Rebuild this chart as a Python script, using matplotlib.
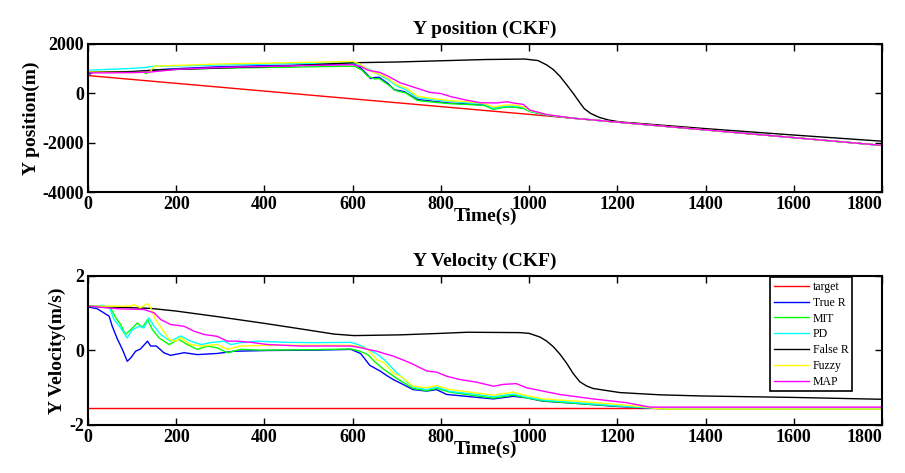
import matplotlib
matplotlib.use("Agg")
import matplotlib.pyplot as plt

plt.rcParams['font.family'] = ['Liberation Serif', 'DejaVu Serif']
plt.rcParams['axes.unicode_minus'] = False

# ---------------- data: Y position (m) ----------------
t_pos_target = [0, 1800]
pos_target = [720, -2110]

t_pos_true = [0, 5, 10, 30, 60, 100, 130, 150, 200, 300, 400, 500, 590, 605, 620, 634, 641, 650, 660, 680,
              694, 717, 747, 785, 822, 860, 898, 921, 943, 964, 987, 1002, 1040, 1100, 1200, 1300, 1400,
              1500, 1600, 1700, 1800]
pos_true = [860, 780, 850, 860, 870, 880, 900, 950, 1000, 1080, 1120, 1150, 1190, 1180, 1000, 740, 600, 640,
            650, 400, 150, 70, -250, -330, -400, -430, -470, -600, -540, -540, -600, -730, -880, -1009, -1166,
            -1324, -1481, -1638, -1795, -1952, -2110]

t_pos_mit = [0, 30, 60, 100, 125, 132, 145, 200, 300, 450, 590, 605, 620, 634, 650, 660, 680, 700, 720, 747,
             785, 822, 860, 898, 919, 943, 964, 987, 1002, 1040, 1100, 1200, 1300, 1400, 1500, 1600, 1700, 1800]
pos_mit = [850, 860, 870, 880, 870, 800, 940, 970, 1020, 1060, 1100, 1090, 950, 700, 580, 600, 350, 100, 20,
           -290, -360, -420, -450, -490, -650, -570, -560, -610, -740, -880, -1009, -1166, -1324, -1481, -1638,
           -1795, -1952, -2110]

t_pos_pd = [0, 30, 60, 100, 130, 150, 200, 300, 450, 590, 610, 634, 660, 680, 700, 720, 747, 785, 822, 860,
            898, 919, 943, 964, 987, 1002, 1040, 1100, 1200, 1300, 1400, 1500, 1600, 1700, 1800]
pos_pd = [940, 960, 980, 1010, 1050, 1100, 1110, 1150, 1200, 1240, 1200, 1000, 750, 560, 300, 150, -180, -260,
          -330, -380, -430, -600, -520, -510, -560, -720, -870, -1009, -1166, -1324, -1481, -1638, -1795, -1952,
          -2110]

t_pos_false = [0, 100, 150, 200, 300, 450, 600, 700, 800, 900, 990, 1020, 1040, 1055, 1070, 1085, 1100, 1115,
               1125, 1140, 1160, 1180, 1206, 1250, 1300, 1400, 1500, 1600, 1700, 1800]
pos_false = [870, 880, 940, 970, 1030, 1110, 1240, 1270, 1320, 1370, 1390, 1330, 1150, 960, 690, 350, 0, -380,
             -620, -820, -980, -1080, -1160, -1220, -1290, -1430, -1560, -1690, -1815, -1940]

t_pos_fuzzy = [0, 50, 100, 140, 150, 200, 300, 450, 600, 615, 640, 660, 680, 700, 720, 747, 785, 822, 860, 898,
               919, 943, 964, 987, 1002, 1040, 1100, 1200, 1300, 1400, 1500, 1600, 1700, 1800]
pos_fuzzy = [870, 850, 840, 860, 1100, 1130, 1190, 1240, 1290, 1200, 900, 780, 620, 350, 230, -120, -220, -300,
             -340, -410, -560, -480, -470, -540, -700, -860, -1009, -1166, -1324, -1481, -1638, -1795, -1952,
             -2110]

t_pos_map = [0, 50, 100, 140, 200, 300, 450, 600, 620, 634, 662, 680, 707, 730, 747, 775, 800, 822, 851, 889,
             926, 950, 964, 987, 1002, 1040, 1100, 1200, 1300, 1400, 1500, 1600, 1700, 1800]
pos_map = [830, 830, 840, 860, 970, 1050, 1110, 1160, 1080, 940, 845, 700, 430, 300, 200, 40, -10, -130, -250,
           -380, -390, -340, -390, -450, -680, -860, -1009, -1166, -1324, -1481, -1638, -1795, -1952, -2110]

# ---------------- data: Y velocity (m/s) ----------------
t_vel_target = [0, 1800]
vel_target = [-1.55, -1.55]

t_vel_true = [0, 21, 36, 48, 55, 67, 78, 89, 97, 108, 119, 135, 142, 155, 172, 187, 218, 248, 293, 331, 407,
              520, 596, 618, 639, 662, 677, 692, 714, 737, 768, 790, 813, 866, 919, 964, 994, 1031, 1107, 1183,
              1258, 1300, 1400, 1600, 1800]
vel_true = [1.17, 1.12, 1.01, 0.92, 0.65, 0.30, 0.03, -0.29, -0.20, -0.02, 0.04, 0.25, 0.12, 0.12, -0.06, -0.13,
            -0.06, -0.11, -0.08, -0.02, 0.0, 0.01, 0.03, -0.08, -0.40, -0.55, -0.67, -0.78, -0.91, -1.05, -1.09,
            -1.05, -1.18, -1.24, -1.30, -1.23, -1.27, -1.36, -1.42, -1.49, -1.54, -1.56, -1.56, -1.56, -1.56]

t_vel_mit = [0, 51, 63, 74, 85, 97, 112, 123, 135, 146, 161, 184, 206, 225, 248, 271, 293, 316, 346, 392, 500,
             596, 617, 634, 650, 671, 700, 737, 768, 790, 821, 881, 919, 964, 994, 1031, 1107, 1183, 1258, 1300,
             1800]
vel_mit = [1.19, 1.15, 0.88, 0.70, 0.43, 0.56, 0.74, 0.61, 0.83, 0.56, 0.34, 0.16, 0.30, 0.16, 0.03, 0.12, 0.07,
           -0.06, 0.03, 0.01, 0.02, 0.04, -0.02, -0.11, -0.30, -0.51, -0.75, -1.02, -1.08, -1.02, -1.12, -1.22,
           -1.28, -1.20, -1.27, -1.35, -1.42, -1.48, -1.53, -1.56, -1.56]

t_vel_pd = [0, 36, 48, 59, 74, 89, 101, 116, 127, 138, 150, 165, 187, 210, 233, 256, 278, 308, 324, 346, 384,
            445, 520, 596, 617, 640, 656, 671, 700, 737, 768, 790, 821, 881, 919, 964, 994, 1031, 1107, 1183,
            1258, 1300, 1800]
vel_pd = [1.19, 1.21, 1.17, 0.83, 0.61, 0.34, 0.56, 0.65, 0.61, 0.88, 0.65, 0.43, 0.25, 0.39, 0.25, 0.16, 0.21,
          0.25, 0.16, 0.21, 0.25, 0.22, 0.21, 0.22, 0.14, 0.0, -0.10, -0.24, -0.60, -0.98, -1.05, -0.98, -1.10,
          -1.18, -1.24, -1.17, -1.25, -1.33, -1.40, -1.47, -1.53, -1.55, -1.56]

t_vel_false = [0, 142, 199, 293, 399, 482, 558, 603, 709, 800, 860, 979, 1000, 1025, 1040, 1055, 1070, 1085,
               1100, 1115, 1130, 1145, 1206, 1236, 1297, 1387, 1600, 1800]
vel_false = [1.19, 1.13, 1.06, 0.91, 0.73, 0.58, 0.44, 0.40, 0.42, 0.46, 0.49, 0.48, 0.46, 0.36, 0.25, 0.10,
             -0.10, -0.34, -0.62, -0.84, -0.95, -1.02, -1.13, -1.15, -1.19, -1.22, -1.26, -1.31]

t_vel_fuzzy = [0, 97, 104, 119, 135, 142, 153, 169, 184, 199, 210, 233, 256, 293, 316, 346, 407, 500, 596, 617,
               634, 655, 671, 692, 714, 737, 768, 790, 821, 881, 919, 964, 994, 1031, 1107, 1183, 1258, 1300,
               1800]
vel_fuzzy = [1.19, 1.19, 1.23, 1.15, 1.26, 1.15, 0.83, 0.56, 0.30, 0.25, 0.34, 0.16, 0.12, 0.16, 0.03, 0.12,
             0.14, 0.14, 0.14, 0.10, 0.03, -0.25, -0.33, -0.60, -0.73, -0.96, -1.00, -0.94, -1.05, -1.14, -1.20,
             -1.12, -1.21, -1.30, -1.36, -1.43, -1.51, -1.57, -1.57]

t_vel_map = [0, 67, 127, 150, 165, 187, 218, 240, 263, 293, 316, 339, 369, 407, 482, 596, 617, 634, 655, 671,
             692, 730, 768, 790, 813, 843, 881, 919, 941, 971, 994, 1031, 1069, 1145, 1220, 1274, 1800]
vel_map = [1.19, 1.12, 1.10, 1.01, 0.83, 0.70, 0.65, 0.52, 0.43, 0.38, 0.25, 0.25, 0.22, 0.16, 0.12, 0.12, 0.08,
           0.03, -0.02, -0.08, -0.15, -0.33, -0.55, -0.58, -0.69, -0.78, -0.85, -0.96, -0.91, -0.89, -1.00,
           -1.09, -1.18, -1.30, -1.40, -1.52, -1.52]

labels = ['target', 'True R', 'MIT', 'PD', 'False R', 'Fuzzy', 'MAP']
colors = ['#ff0000', '#0000ff', '#00ff00', '#00ffff', '#000000', '#ffff00', '#ff00ff']

x_ticks = [0, 200, 400, 600, 800, 1000, 1200, 1400, 1600, 1800]
pos_ticks = [-4000, -2000, 0, 2000]
vel_ticks = [-2, 0, 2]

pos_series = [(t_pos_target, pos_target), (t_pos_true, pos_true), (t_pos_mit, pos_mit), (t_pos_pd, pos_pd),
              (t_pos_false, pos_false), (t_pos_fuzzy, pos_fuzzy), (t_pos_map, pos_map)]
vel_series = [(t_vel_target, vel_target), (t_vel_true, vel_true), (t_vel_mit, vel_mit), (t_vel_pd, vel_pd),
              (t_vel_false, vel_false), (t_vel_fuzzy, vel_fuzzy), (t_vel_map, vel_map)]

fig = plt.figure(figsize=(9.05, 4.73), dpi=100)
ax1 = fig.add_axes([0.0972, 0.594, 0.8774, 0.313])
ax2 = fig.add_axes([0.0972, 0.1015, 0.8774, 0.315])

for ax, series, yticks, ylim, title, ylabel in [
        (ax1, pos_series, pos_ticks, (-4000, 2000), 'Y position (CKF)', 'Y position(m)'),
        (ax2, vel_series, vel_ticks, (-2, 2), 'Y Velocity (CKF)', 'Y Velocity(m/s)')]:
    for (tt, vv), lab, col in zip(series, labels, colors):
        ax.plot(tt, vv, color=col, lw=1.0, label=lab)
    ax.set_xlim(0, 1800)
    ax.set_ylim(*ylim)
    ax.set_xticks(x_ticks)
    ax.set_yticks(yticks)
    ax.tick_params(direction='in', length=5, width=1.0, top=True, right=True, pad=3,
                   labelsize=13)
    for lbl in ax.get_xticklabels() + ax.get_yticklabels():
        lbl.set_fontweight('bold')
    ax.get_xticklabels()[-1].set_horizontalalignment('right')
    for sp in ax.spines.values():
        sp.set_linewidth(1.5)
    ax.set_title(title, fontsize=14, fontweight='bold', pad=7)
    ax.set_xlabel('Time(s)', fontsize=14, fontweight='bold', labelpad=-4)
    ax.set_ylabel(ylabel, fontsize=14, fontweight='bold', labelpad=2)

leg = ax2.legend(loc='upper right', bbox_to_anchor=(0.962, 0.99), fontsize=8.5, frameon=True,
                 fancybox=False, edgecolor='black', framealpha=1, borderpad=0.3, labelspacing=0.32,
                 handlelength=3.0, handletextpad=0.3, borderaxespad=0)
leg.get_frame().set_linewidth(1.2)

fig.savefig('out.png', dpi=100)
